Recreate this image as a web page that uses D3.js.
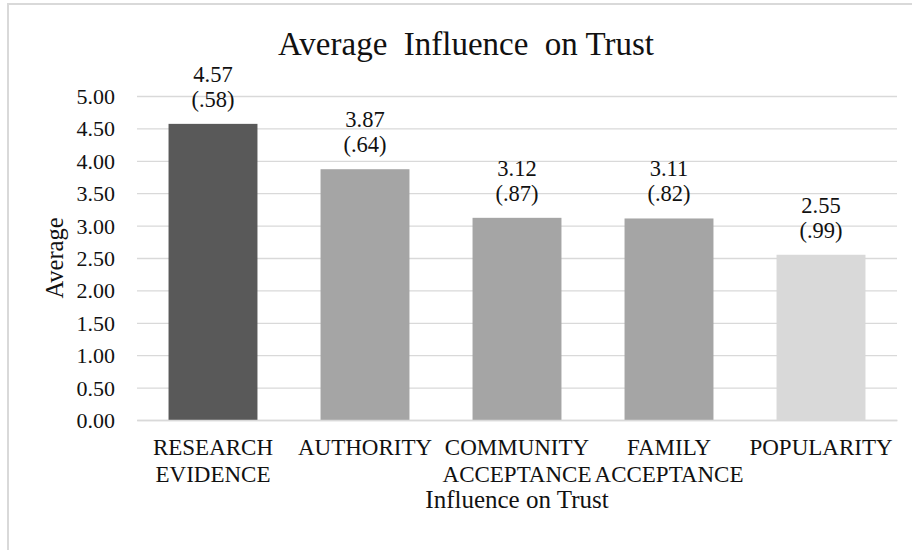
<!DOCTYPE html>
<html>
<head>
<meta charset="utf-8">
<script src="https://cdn.jsdelivr.net/npm/d3@7"></script>
<style>
  html, body { margin: 0; padding: 0; background: #fff; }
  svg { display: block; }
  text { font-family: "Liberation Serif", "Times New Roman", serif; fill: #111; }
</style>
</head>
<body>
<svg id="chart" width="912" height="550"></svg>
<script>
const categories = [["RESEARCH", "EVIDENCE"], ["AUTHORITY"], ["COMMUNITY", "ACCEPTANCE"], ["FAMILY", "ACCEPTANCE"], ["POPULARITY"]];
const means = [4.57, 3.87, 3.12, 3.11, 2.55];
const sds = ["(.58)", "(.64)", "(.87)", "(.82)", "(.99)"];
const barColors = ["#595959", "#a5a5a5", "#a5a5a5", "#a5a5a5", "#d9d9d9"];
const yTicks = [0, 0.5, 1, 1.5, 2, 2.5, 3, 3.5, 4, 4.5, 5];
const titleText = "Average  Influence  on Trust";
const xTitle = "Influence on Trust";
const yTitle = "Average";

const svg = d3.select("#chart");
const margin = { left: 137, right: 15, top: 96, bottom: 130 };
const W = 912, H = 550;

// chart area border (cropped at right and bottom)
svg.append("rect").attr("x", 8).attr("y", 4).attr("width", 940).attr("height", 580)
  .attr("fill", "none").attr("stroke", "#d9d9d9").attr("stroke-width", 2);

const x = d3.scaleBand().domain(d3.range(means.length))
  .range([margin.left, W - margin.right]).paddingInner(0.415).paddingOuter(0.2075);
const y = d3.scaleLinear().domain([0, 5]).range([H - margin.bottom, margin.top]);

// gridlines
const grid = svg.append("g").attr("transform", `translate(${margin.left},0)`)
  .call(d3.axisLeft(y).tickValues(yTicks).tickSize(-(W - margin.right - margin.left)).tickFormat(""));
grid.select(".domain").remove();
grid.selectAll("line").attr("stroke", "#d9d9d9").attr("stroke-width", 1.3);

// y tick labels
const yAxis = svg.append("g").attr("transform", `translate(${margin.left - 22},0)`)
  .call(d3.axisLeft(y).tickValues(yTicks).tickSize(0).tickPadding(0).tickFormat(d3.format(".2f")));
yAxis.select(".domain").remove();
yAxis.selectAll("text").attr("font-size", 22).attr("font-family", "Liberation Serif").attr("fill", "#111").attr("dy", "0.34em");

// bars
svg.append("g").selectAll("rect").data(means).join("rect")
  .attr("x", (d, i) => x(i)).attr("width", x.bandwidth())
  .attr("y", d => y(d)).attr("height", d => y(0) - y(d))
  .attr("fill", (d, i) => barColors[i]);

// baseline axis
const xAxis = svg.append("g").attr("transform", `translate(0,${y(0)})`)
  .call(d3.axisBottom(x).tickSize(0).tickFormat(""));
xAxis.select(".domain").attr("stroke", "#d9d9d9").attr("stroke-width", 1.3);

// category labels
const cat = svg.append("g").selectAll("text").data(categories).join("text")
  .attr("text-anchor", "middle").attr("font-size", 23)
  .attr("x", (d, i) => x(i) + x.bandwidth() / 2).attr("y", y(0) + 35);
cat.selectAll("tspan").data(d => d).join("tspan")
  .attr("x", function () { return d3.select(this.parentNode).attr("x"); })
  .attr("dy", (d, i) => i === 0 ? 0 : 27).text(d => d);

// data labels
const lab = svg.append("g").selectAll("text").data(means).join("text")
  .attr("text-anchor", "middle").attr("font-size", 22.5)
  .attr("x", (d, i) => x(i) + x.bandwidth() / 2);
lab.append("tspan").attr("x", (d, i) => x(i) + x.bandwidth() / 2)
  .attr("y", d => y(d) - 42).text(d => d3.format(".2f")(d));
lab.append("tspan").attr("x", (d, i) => x(i) + x.bandwidth() / 2)
  .attr("y", d => y(d) - 17).text((d, i) => sds[i]);

// title
svg.append("text").attr("x", 466).attr("y", 55).attr("text-anchor", "middle")
  .attr("font-size", 33).style("white-space", "pre").attr("xml:space", "preserve").text(titleText);

// axis titles
svg.append("text").attr("x", (margin.left + W - margin.right) / 2).attr("y", 508)
  .attr("text-anchor", "middle").attr("font-size", 25).text(xTitle);
svg.append("text").attr("transform", `translate(63,${(y(0) + y(5)) / 2}) rotate(-90)`)
  .attr("text-anchor", "middle").attr("font-size", 24.5).text(yTitle);
</script>
</body>
</html>
